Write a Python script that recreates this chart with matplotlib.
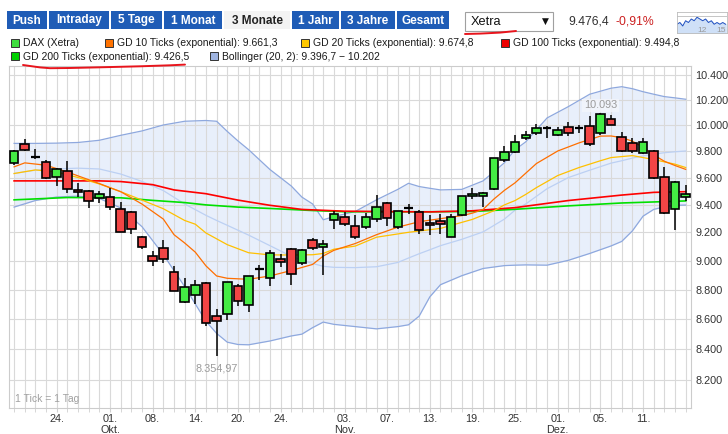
import numpy as np
import matplotlib.pyplot as plt
from matplotlib.patches import Rectangle
from matplotlib.ticker import FixedLocator, NullLocator, NullFormatter, FuncFormatter

plt.rcParams['font.family'] = ['Liberation Sans', 'DejaVu Sans']

# =========================
# DATA - DAX (Xetra), 3 Monate, 1 Tick = 1 Tag
# =========================
opens = [9707, 9854, 9755, 9718, 9602, 9652, 9510, 9503, 9448, 9455,
         9367, 9348, 9170, 9034, 9090, 8924, 8712, 8761, 8846, 8624,
         8633, 8826, 8692, 8940, 8880, 9010, 9083, 8985, 9148, 9096,
         9290, 9313, 9242, 9235, 9296, 9410, 9238, 9377, 9345, 9270,
         9278, 9168, 9323, 9460, 9460, 9515, 9735, 9795, 9898, 9937,
         9980, 9925, 9983, 9977, 9990, 9937, 10048, 9906, 9862, 9781,
         9800, 9604, 9368, 9455]
highs = [9806, 9894, 9815, 9728, 9672, 9724, 9557, 9510, 9503, 9523,
         9422, 9350, 9177, 9066, 9148, 8963, 8880, 8862, 8850, 8670,
         8852, 8840, 8893, 8970, 9076, 9046, 9090, 9080, 9160, 9148,
         9351, 9348, 9327, 9338, 9470, 9422, 9357, 9405, 9361, 9322,
         9329, 9334, 9462, 9520, 9490, 9748, 9836, 9925, 9950, 10011,
         9990, 9983, 10025, 10002, 10072, 10093, 10080, 9948, 9898, 9898,
         9811, 9678, 9575, 9544]
lows = [9693, 9800, 9736, 9588, 9536, 9486, 9453, 9377, 9412, 9359,
        9205, 9186, 9078, 8962, 8980, 8788, 8710, 8703, 8557, 8354.97,
        8591, 8688, 8648, 8862, 8822, 8958, 8834, 8966, 9073, 8900,
        9222, 9247, 9153, 9222, 9277, 9246, 9222, 9333, 9190, 9178,
        9190, 9165, 9318, 9440, 9382, 9510, 9720, 9785, 9886, 9919,
        9902, 9918, 9913, 9936, 9840, 9922, 10003, 9790, 9782, 9775,
        9590, 9333, 9219, 9426]
closes = [9803, 9804, 9755, 9596, 9664, 9515, 9492, 9430, 9475, 9383,
          9205, 9221, 9092, 8998, 9010, 8788, 8818, 8828, 8574, 8587,
          8850, 8721, 8893, 8940, 9052, 8993, 8907, 9077, 9090, 9117,
          9335, 9257, 9168, 9312, 9383, 9300, 9352, 9377, 9220, 9254,
          9260, 9313, 9460, 9477, 9485, 9743, 9795, 9870, 9919, 9975,
          9980, 9962, 9937, 9977, 9853, 10088, 10003, 9800, 9800, 9870,
          9598, 9340, 9568, 9480]

# GD 10 (exponential)
ema10_idx = [0, 1, 3, 5, 8, 10, 12, 14, 15, 16, 17, 18, 19, 20, 22, 24, 26, 28, 29, 30,
             32, 34, 36, 38, 40, 42, 43, 44, 45, 46, 47, 49, 51, 53, 55, 56, 57, 58, 59,
             60, 61, 62, 63]
ema10 = [9680, 9710, 9692, 9641, 9555, 9495, 9404, 9295, 9183, 9124, 9059, 8963, 8893,
         8877, 8870, 8893, 8931, 8973, 9032, 9072, 9120, 9183, 9237, 9276, 9298, 9320,
         9338, 9365, 9440, 9505, 9561, 9705, 9800, 9862, 9914, 9915, 9902, 9875, 9828,
         9770, 9722, 9690, 9661]

# GD 20 (exponential)
ema20_idx = [0, 2, 4, 6, 8, 10, 12, 14, 16, 17, 18, 20, 22, 24, 26, 28, 29, 30, 32, 34,
             37, 40, 43, 45, 46, 47, 48, 49, 51, 53, 55, 56, 58, 60, 62, 63]
ema20 = [9630, 9657, 9641, 9600, 9552, 9495, 9433, 9370, 9285, 9258, 9195, 9112, 9055,
         9040, 9039, 9041, 9050, 9080, 9102, 9165, 9200, 9228, 9293, 9355, 9398, 9430,
         9475, 9525, 9615, 9675, 9726, 9750, 9765, 9735, 9700, 9675]

# GD 100 (exponential)
ema100_idx = [0, 8, 10, 13, 15, 18, 21, 24, 27, 31, 39, 43, 47, 52, 57, 60, 63]
ema100 = [9575, 9575, 9570, 9547, 9508, 9480, 9433, 9395, 9365, 9352, 9347, 9355,
          9378, 9430, 9470, 9490, 9495]

# GD 200 (exponential)
ema200_idx = [0, 5, 10, 13, 16, 18, 21, 24, 28, 31, 39, 43, 47, 52, 57, 63]
ema200 = [9435, 9452, 9450, 9431, 9415, 9398, 9382, 9372, 9357, 9348, 9348, 9350,
          9366, 9391, 9412, 9427]

# Bollinger (20, 2)
boll_idx = [0, 2, 4, 6, 8, 10, 12, 14, 16, 18, 19, 20, 21, 22, 24, 26, 27, 28, 29, 30,
            32, 34, 36, 37, 38, 39, 40, 42, 44, 46, 47, 48, 50, 52, 54, 56, 57, 58, 59,
            60, 61, 62, 63]
boll_upper = [9858, 9858, 9860, 9865, 9882, 9920, 9954, 10000, 10029, 10035, 10029, 9950,
              9877, 9810, 9660, 9537, 9455, 9405, 9290, 9313, 9350, 9435, 9512, 9557,
              9533, 9520, 9508, 9512, 9575, 9711, 9810, 9870, 10055, 10144, 10242, 10290,
              10302, 10286, 10262, 10242, 10223, 10213, 10202]
boll_lower = [9382, 9430, 9456, 9462, 9445, 9376, 9240, 9042, 8820, 8585, 8505, 8447,
              8432, 8430, 8455, 8488, 8500, 8543, 8580, 8565, 8550, 8535, 8550, 8562,
              8620, 8750, 8833, 8895, 8945, 8965, 8968, 8970, 8968, 9002, 9050, 9103,
              9135, 9210, 9316, 9365, 9384, 9395, 9397]
boll_mid = [9630, 9655, 9665, 9670, 9664, 9626, 9571, 9503, 9405, 9322, 9285, 9250,
            9215, 9180, 9105, 9030, 9003, 8980, 8960, 8953, 8951, 8957, 8987, 9018,
            9048, 9076, 9105, 9150, 9203, 9295, 9360, 9405, 9517, 9600, 9655, 9708,
            9726, 9746, 9763, 9775, 9787, 9794, 9800]

# x-Achse
tick_idx = [4, 9, 13, 17, 21, 25, 31, 35, 39, 43, 47, 51, 55, 59]
tick_lab = ["24.", "01.\nOkt.", "08.", "14.", "20.", "24.", "03.\nNov.", "07.",
            "13.", "19.", "25.", "01.\nDez.", "05.", "11."]
y_ticks = [8200, 8400, 8600, 8800, 9000, 9200, 9400, 9600, 9800, 10000, 10200, 10400]

# Kopfzeile
buttons = ["Push", "Intraday", "5 Tage", "1 Monat", "3 Monate", "1 Jahr", "3 Jahre", "Gesamt"]
legend_row1 = [("DAX (Xetra)", "#3ddc3d"),
               ("GD 10 Ticks (exponential): 9.661,3", "#ff7200"),
               ("GD 20 Ticks (exponential): 9.674,8", "#ffc800"),
               ("GD 100 Ticks (exponential): 9.494,8", "#ee0000")]
legend_row2 = [("GD 200 Ticks (exponential): 9.426,5", "#00d000"),
               ("Bollinger (20, 2): 9.396,7 \u2212 10.202", "#9fb4e0")]
last_price = "9.476,4"
change_pct = "-0,91%"
mini_vals = [5, 6, 4, 7, 6, 8, 7, 9, 8, 7, 8, 6, 7, 5, 6, 5, 6, 5]


def de_num(v, dec=0):
    s = f"{v:,.{dec}f}"
    return s.replace(",", "X").replace(".", ",").replace("X", ".")


# =========================
# FIGURE
# =========================
W, H = 728, 434
fig = plt.figure(figsize=(W / 100, H / 100), dpi=100)


def px_box(x0, y0, x1, y1):
    return [x0 / W, 1 - y1 / H, (x1 - x0) / W, (y1 - y0) / H]


ax = fig.add_axes(px_box(9.3, 66, 691, 408))
ax.set_yscale('log')
ax.set_xlim(-0.45, 63.5)
ax.set_ylim(8026, 10469)
ax.set_axisbelow(True)

# Bollinger
ax.fill_between(boll_idx, boll_lower, boll_upper, color='#e8effb', lw=0, zorder=0.2)
ax.plot(boll_idx, boll_upper, color='#8ea8de', lw=0.9, zorder=1)
ax.plot(boll_idx, boll_lower, color='#8ea8de', lw=0.9, zorder=1)
ax.plot(boll_idx, boll_mid, color='#bcd0f3', lw=0.9, zorder=1)

# gleitende Durchschnitte
ax.plot(ema200_idx, ema200, color='#00e000', lw=1.2, zorder=2)
ax.plot(ema100_idx, ema100, color='#ff0000', lw=1.2, zorder=2)
ax.plot(ema20_idx, ema20, color='#ffc000', lw=0.9, zorder=2)
ax.plot(ema10_idx, ema10, color='#ff6f00', lw=0.9, zorder=2)

# Kerzen
x = np.arange(len(closes))
o = np.array(opens, float)
h = np.array(highs, float)
l = np.array(lows, float)
c = np.array(closes, float)
up = c > o
dn = c < o
fl = c == o
ax.vlines(x, l, h, color='black', lw=1.1, zorder=3)
ax.bar(x[up], c[up] - o[up], bottom=o[up], width=0.8, color='#44ec44',
       edgecolor='black', lw=1.2, zorder=4)
ax.bar(x[dn], o[dn] - c[dn], bottom=c[dn], width=0.8, color='#f24545',
       edgecolor='black', lw=1.2, zorder=4)
ax.hlines(c[fl], x[fl] - 0.4, x[fl] + 0.4, color='black', lw=1.6, zorder=4)

# Hoch / Tief
i_lo = int(np.argmin(l))
i_hi = int(np.argmax(h))
ax.annotate(de_num(l[i_lo], 2), (i_lo, l[i_lo]), xytext=(0, -5), textcoords='offset points',
            ha='center', va='top', fontsize=7.8, color='#9a9a9a', zorder=5)
ax.annotate(de_num(h[i_hi]), (i_hi, h[i_hi]), xytext=(0, 2), textcoords='offset points',
            ha='center', va='bottom', fontsize=7.8, color='#9a9a9a', zorder=5,
            bbox=dict(boxstyle='square,pad=0.15', fc='#f2f5fb', ec='none', alpha=0.85))
ax.text(0.008, 0.012, "1 Tick = 1 Tag", transform=ax.transAxes, fontsize=7.5,
        color='#a0a0a0', ha='left', va='bottom')

# Achsen
ax.xaxis.set_major_locator(FixedLocator(tick_idx))
ax.xaxis.set_minor_locator(FixedLocator(list(range(len(closes)))))
ax.set_xticklabels(tick_lab)
ax.yaxis.set_major_locator(FixedLocator(y_ticks))
ax.yaxis.set_minor_locator(NullLocator())
ax.yaxis.set_minor_formatter(NullFormatter())
ax.yaxis.set_major_formatter(FuncFormatter(lambda v, p: de_num(v)))
ax.yaxis.tick_right()
ax.grid(True, which='major', axis='y', color='#d9d9d9', lw=0.8)
ax.grid(True, which='both', axis='x', color='#d9d9d9', lw=0.8)
ax.tick_params(axis='x', which='both', length=3, color='#d0d0d0', pad=1.5,
               labelsize=7.8, labelcolor='#333333')
ax.tick_params(axis='y', which='both', length=0, pad=3, labelsize=7.8, labelcolor='#333333')
for t in ax.get_xticklabels():
    t.set_linespacing(1.15)
for s in ax.spines.values():
    s.set_color('#cccccc')
    s.set_linewidth(0.8)

# =========================
# KOPFZEILE
# =========================
hd = fig.add_axes([0, 0, 1, 1], zorder=10)
hd.set_xlim(0, W)
hd.set_ylim(H, 0)
hd.axis('off')

btn_x = [7, 49, 111, 164, 224, 292, 341, 397, 451]
for i, lab in enumerate(buttons):
    x0, x1 = btn_x[i], btn_x[i + 1] - 2
    sel = lab == "3 Monate"
    hd.add_patch(Rectangle((x0, 11), x1 - x0, 18, fc='#f3f3f3' if sel else '#1f5cb6', ec='none'))
    hd.text((x0 + x1) / 2, 20.5, lab, ha='center', va='center', fontsize=8.5,
            fontweight='bold', color='#222222' if sel else 'white')

# Börsenplatz-Auswahl
hd.add_patch(Rectangle((465, 12), 88, 19, fc='white', ec='#a0a0a0', lw=0.8))
hd.text(471, 22, "Xetra", ha='left', va='center', fontsize=9.2, color='#111111')
hd.text(545, 21.5, "\u25bc", ha='center', va='center', fontsize=6.5, color='#111111',
        family=['DejaVu Sans'])
hd.text(568, 22, last_price, ha='left', va='center', fontsize=8.8, color='#333333')
hd.text(616, 22, change_pct, ha='left', va='center', fontsize=8.8, color='#cc2020')

# Mini-Chart
mini = fig.add_axes(px_box(677, 12, 727, 33), zorder=10)
mini.fill_between(range(len(mini_vals)), mini_vals, 0, color='#cfe0f7')
mini.plot(range(len(mini_vals)), mini_vals, color='#2050c0', lw=0.7)
mini.set_xlim(0, len(mini_vals) - 0.5)
mini.set_ylim(0, 12)
mini.set_xticks([])
mini.set_yticks([])
mini.axhline(10, color='#bbbbbb', lw=0.6)
mini.text(0.4, 0.05, "12", transform=mini.transAxes, fontsize=6, color='#999999')
mini.text(0.98, 0.05, "15", transform=mini.transAxes, fontsize=6, color='#999999', ha='right')
for s in mini.spines.values():
    s.set_color('#bbbbbb')
    s.set_linewidth(0.6)

# Legende
leg1_x = [11, 105, 301, 501]
leg2_x = [11, 210]
for row_y, row, xs in [(43, legend_row1, leg1_x), (56, legend_row2, leg2_x)]:
    for (lab, col), lx in zip(row, xs):
        hd.add_patch(Rectangle((lx, row_y - 4), 8, 8, fc=col, ec='#333333', lw=0.7))
        hd.text(lx + 12, row_y + 0.5, lab, ha='left', va='center', fontsize=7.5, color='#1a1a1a')

# rote Markierungen (Handanmerkung)
mark1_x = [465, 480, 500, 516]
mark1_y = [34, 33.6, 32.6, 31]
mark2_x = [23, 30, 40, 50, 70, 100, 140, 170, 185]
mark2_y = [65, 66, 67.4, 68.2, 68, 67.3, 66.3, 65.3, 64.6]
hd.plot(mark1_x, mark1_y, color='#e8141c', lw=1.4, solid_capstyle='round')
hd.plot(mark2_x, mark2_y, color='#e8141c', lw=1.4, solid_capstyle='round')

fig.savefig('out.png', dpi=100)
